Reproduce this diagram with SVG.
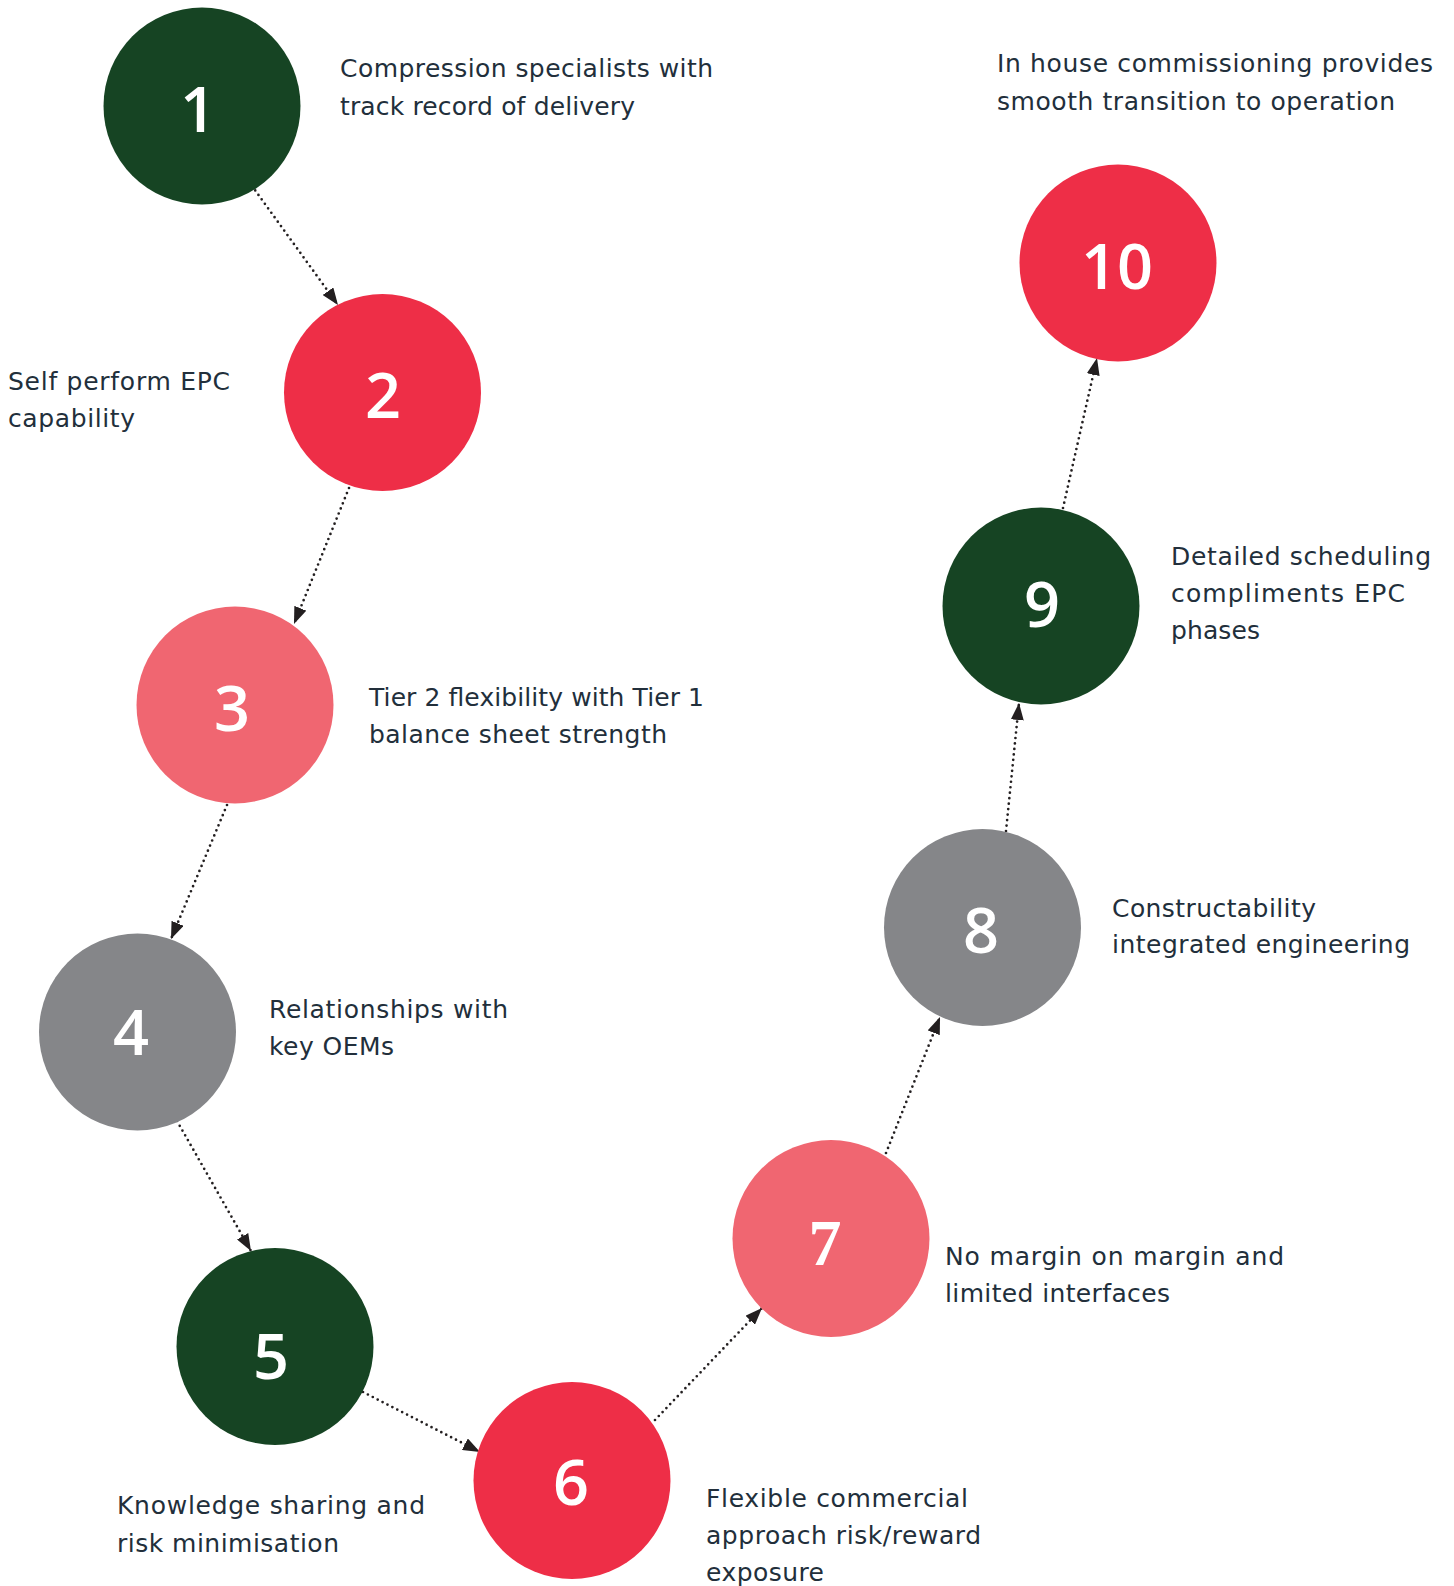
<svg xmlns="http://www.w3.org/2000/svg" width="1454" height="1586" viewBox="0 0 1454 1586">
<style>
.green{fill:#164423}
.red{fill:#ee2e47}
.pink{fill:#f06671}
.gray{fill:#858689}
.num{font-family:"Open Sans","DejaVu Sans",sans-serif;font-size:63px;font-weight:600;fill:#ffffff;text-anchor:middle}
.num7{font-family:"Liberation Serif","DejaVu Serif",serif;font-size:66px;font-weight:700;fill:#ffffff;text-anchor:middle}
.lbl{font-family:"DejaVu Sans","Liberation Sans",sans-serif;font-size:25px;fill:#222f3b}
.conn{fill:none;stroke:#231f20;stroke-width:2.7;stroke-dasharray:0 5.5;stroke-linecap:round}
</style>
<defs>
<marker id="ah" viewBox="0 0 17 13" refX="17" refY="6.5" markerWidth="17" markerHeight="13" markerUnits="userSpaceOnUse" orient="auto">
<path d="M0,0 L17,6.5 L0,13 z" fill="#231f20"/>
</marker>
</defs>
<rect width="1454" height="1586" fill="#ffffff"/>
<g id="connectors">
<line class="conn" x1="252" y1="186" x2="338" y2="305" marker-end="url(#ah)"/>
<line class="conn" x1="349" y1="488" x2="294" y2="624" marker-end="url(#ah)"/>
<line class="conn" x1="227" y1="805" x2="171" y2="939" marker-end="url(#ah)"/>
<line class="conn" x1="177" y1="1121" x2="251" y2="1251" marker-end="url(#ah)"/>
<line class="conn" x1="363" y1="1392" x2="480" y2="1452" marker-end="url(#ah)"/>
<line class="conn" x1="655" y1="1420" x2="762" y2="1308" marker-end="url(#ah)"/>
<line class="conn" x1="886" y1="1153" x2="940" y2="1017" marker-end="url(#ah)"/>
<line class="conn" x1="1006" y1="831" x2="1019" y2="703" marker-end="url(#ah)"/>
<line class="conn" x1="1063" y1="508" x2="1097" y2="358" marker-end="url(#ah)"/>
</g>
<g id="node1">
<circle class="green" cx="202" cy="106" r="98.5"/>
<text class="num" x="198" y="132">1</text>
<text class="lbl" x="340" y="77" textLength="373" lengthAdjust="spacing">Compression specialists with</text>
<text class="lbl" x="340" y="115" textLength="295" lengthAdjust="spacing">track record of delivery</text>
</g>
<g id="node2">
<circle class="red" cx="382.5" cy="392.5" r="98.5"/>
<text class="num" x="383" y="418">2</text>
<text class="lbl" x="8" y="390" textLength="222" lengthAdjust="spacing">Self perform EPC</text>
<text class="lbl" x="8" y="427" textLength="127" lengthAdjust="spacing">capability</text>
</g>
<g id="node3">
<circle class="pink" cx="235" cy="705" r="98.5"/>
<text class="num" x="232" y="731">3</text>
<text class="lbl" x="369" y="706" textLength="335" lengthAdjust="spacing">Tier 2 flexibility with Tier 1</text>
<text class="lbl" x="369" y="743" textLength="298" lengthAdjust="spacing">balance sheet strength</text>
</g>
<g id="node4">
<circle class="gray" cx="137.5" cy="1032" r="98.5"/>
<text class="num" x="131" y="1055">4</text>
<text class="lbl" x="269" y="1018" textLength="239" lengthAdjust="spacing">Relationships with</text>
<text class="lbl" x="269" y="1055" textLength="125" lengthAdjust="spacing">key OEMs</text>
</g>
<g id="node5">
<circle class="green" cx="275" cy="1346.5" r="98.5"/>
<text class="num" x="271" y="1379">5</text>
<text class="lbl" x="117" y="1514" textLength="308" lengthAdjust="spacing">Knowledge sharing and</text>
<text class="lbl" x="117" y="1552" textLength="222" lengthAdjust="spacing">risk minimisation</text>
</g>
<g id="node6">
<circle class="red" cx="572" cy="1480.5" r="98.5"/>
<text class="num" x="571" y="1505">6</text>
<text class="lbl" x="706" y="1507" textLength="262" lengthAdjust="spacing">Flexible commercial</text>
<text class="lbl" x="706" y="1544" textLength="275" lengthAdjust="spacing">approach risk/reward</text>
<text class="lbl" x="706" y="1581" textLength="118" lengthAdjust="spacing">exposure</text>
</g>
<g id="node7">
<circle class="pink" cx="831" cy="1238.5" r="98.5"/>
<text class="num7" x="825" y="1265">7</text>
<text class="lbl" x="945" y="1265" textLength="339" lengthAdjust="spacing">No margin on margin and</text>
<text class="lbl" x="945" y="1302" textLength="225" lengthAdjust="spacing">limited interfaces</text>
</g>
<g id="node8">
<circle class="gray" cx="982.5" cy="927.5" r="98.5"/>
<text class="num" x="981" y="953">8</text>
<text class="lbl" x="1112" y="917" textLength="204" lengthAdjust="spacing">Constructability</text>
<text class="lbl" x="1112" y="953" textLength="298" lengthAdjust="spacing">integrated engineering</text>
</g>
<g id="node9">
<circle class="green" cx="1041" cy="606" r="98.5"/>
<text class="num" x="1042" y="627">9</text>
<text class="lbl" x="1171" y="565" textLength="260" lengthAdjust="spacing">Detailed scheduling</text>
<text class="lbl" x="1171" y="602" textLength="234" lengthAdjust="spacing">compliments EPC</text>
<text class="lbl" x="1171" y="639" textLength="89" lengthAdjust="spacing">phases</text>
</g>
<g id="node10">
<circle class="red" cx="1118" cy="263" r="98.5"/>
<text class="num" x="1117" y="289">10</text>
<text class="lbl" x="997" y="72" textLength="436" lengthAdjust="spacing">In house commissioning provides</text>
<text class="lbl" x="997" y="110" textLength="398" lengthAdjust="spacing">smooth transition to operation</text>
</g>
</svg>
